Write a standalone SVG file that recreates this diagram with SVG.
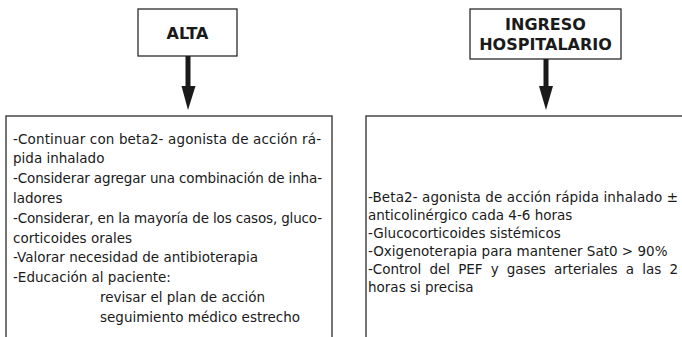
<svg xmlns="http://www.w3.org/2000/svg" width="682" height="337" viewBox="0 0 682 337">
<style>
.box{fill:#fff;stroke:#2b2b2b;stroke-width:1.3}
.title{font-family:"DejaVu Sans","Verdana",sans-serif;font-weight:bold;font-size:16px;fill:#1a1a1a;text-anchor:middle}
.body{font-family:"DejaVu Sans","Verdana",sans-serif;font-size:13.5px;fill:#1a1a1a}
.arrow{fill:#1a1a1a}
</style>
<rect width="682" height="337" fill="#fff"/>
<g id="alta">
<rect class="box" x="138" y="9" width="99" height="47"/>
<text class="title" x="187.5" y="38.5">ALTA</text>
</g>
<g id="ingreso">
<rect class="box" x="470" y="9" width="151" height="50"/>
<text class="title" x="545.5" y="30">INGRESO</text>
<text class="title" x="545.5" y="50">HOSPITALARIO</text>
</g>
<g id="connectors">
<rect class="arrow" x="185.5" y="56" width="5" height="31"/>
<polygon class="arrow" points="181.5,86 195.5,86 188,110"/>
<rect class="arrow" x="543.5" y="59" width="5" height="28"/>
<polygon class="arrow" points="539,86 553,86 546,110"/>
</g>
<g id="alta-detail">
<rect class="box" x="6" y="116" width="326" height="240"/>
<text class="body" x="13" y="143.5" textLength="308" lengthAdjust="spacing">-Continuar con beta2- agonista de acción rá-</text>
<text class="body" x="13" y="163.3">pida inhalado</text>
<text class="body" x="13" y="183.1" textLength="309" lengthAdjust="spacing">-Considerar agregar una combinación de inha-</text>
<text class="body" x="13" y="202.9">ladores</text>
<text class="body" x="13" y="222.7" textLength="309" lengthAdjust="spacing">-Considerar, en la mayoría de los casos, gluco-</text>
<text class="body" x="13" y="242.5">corticoides orales</text>
<text class="body" x="13" y="262.3">-Valorar necesidad de antibioterapia</text>
<text class="body" x="13" y="282.1">-Educación al paciente:</text>
<text class="body" x="100" y="301.9">revisar el plan de acción</text>
<text class="body" x="100" y="321.7">seguimiento médico estrecho</text>
</g>
<g id="ingreso-detail">
<rect class="box" x="366" y="116" width="330" height="240"/>
<text class="body" x="368" y="201.5" textLength="310" lengthAdjust="spacing">-Beta2- agonista de acción rápida inhalado ±</text>
<text class="body" x="368" y="219.5">anticolinérgico cada 4-6 horas</text>
<text class="body" x="368" y="237.5">-Glucocorticoides sistémicos</text>
<text class="body" x="368" y="255.5">-Oxigenoterapia para mantener Sat0 &gt; 90%</text>
<text class="body" x="368" y="273.5" word-spacing="4" textLength="310" lengthAdjust="spacing">-Control del PEF y gases arteriales a las 2</text>
<text class="body" x="368" y="291.5">horas si precisa</text>
</g>
</svg>
